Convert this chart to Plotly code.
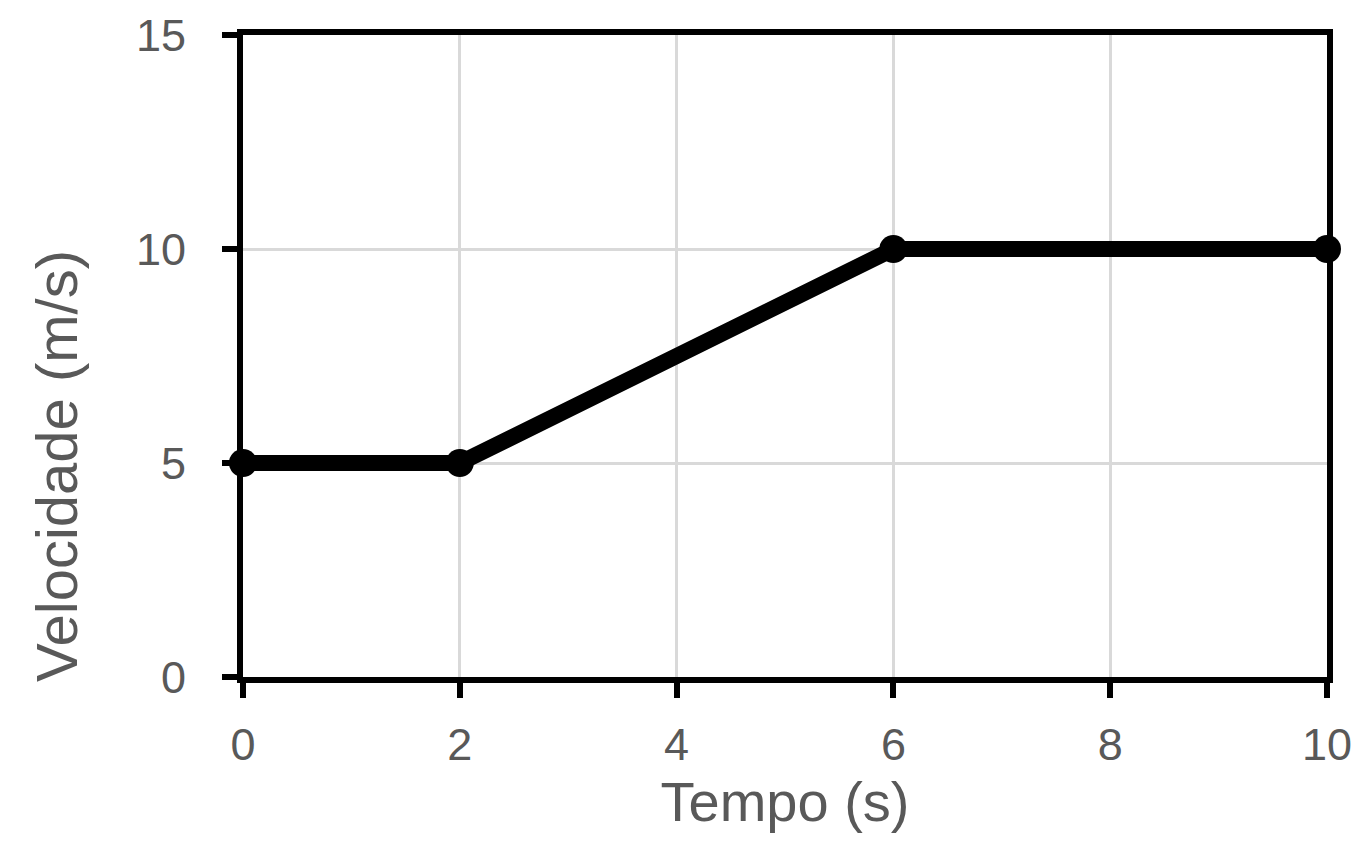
import plotly.graph_objects as go

tempo = [0, 2, 6, 10]
velocidade = [5, 5, 10, 10]
x_ticks = [0, 2, 4, 6, 8, 10]
y_ticks = [0, 5, 10, 15]

W, H = 1368, 866
OFF = 8  # page body margin
L, R, T, B = 243 - OFF, 41 + OFF, 35 - OFF, 189 + OFF

fig = go.Figure()
fig.add_trace(go.Scatter(
    x=tempo, y=velocidade, mode="lines+markers",
    line=dict(color="black", width=16),
    marker=dict(color="black", size=28),
    cliponaxis=False, showlegend=False,
))

font = "Liberation Sans, Arial, sans-serif"
axis_common = dict(
    showline=True, linecolor="black", linewidth=6, mirror=True,
    ticks="outside", ticklen=15, tickwidth=6, tickcolor="black",
    showgrid=True, gridcolor="#d9d9d9", gridwidth=3,
    zeroline=False, automargin=False,
    tickfont=dict(family=font, size=45, color="#595959"),
)

fig.update_xaxes(range=[0, 10], tickvals=x_ticks, ticklabelstandoff=8, **axis_common,
                 title=dict(text="Tempo (s)", font=dict(family=font, size=56, color="#595959"), standoff=14))
fig.update_yaxes(range=[0, 15], tickvals=y_ticks, ticklabelstandoff=27, **axis_common)

pw = W - L - R
ph = H - T - B
fig.add_annotation(
    text="Velocidade (m/s)", textangle=-90, showarrow=False,
    xref="paper", yref="paper",
    x=(56 - 243) / pw, y=(677 - 466) / ph,
    xanchor="center", yanchor="middle",
    font=dict(family=font, size=58, color="#595959"),
)

fig.update_layout(
    width=W, height=H,
    margin=dict(l=L, r=R, t=T, b=B),
    plot_bgcolor="white", paper_bgcolor="white",
)

fig.write_html("out.html")
